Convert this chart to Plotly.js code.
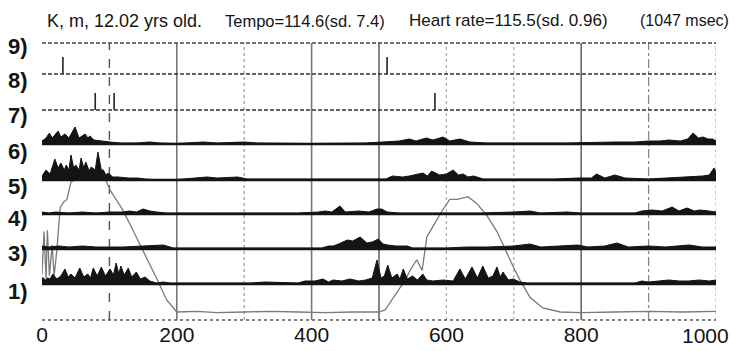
<!DOCTYPE html>
<html><head><meta charset="utf-8">
<script src="https://cdn.plot.ly/plotly-3.0.1.min.js"></script>
<style>html,body{margin:0;padding:0;background:#fff}#c{width:734px;height:351px}</style>
</head><body><div id="c"></div><script>
// ---- data ----
const xTicks = [0, 200, 400, 600, 800, 1000];
const rowLabels = ['9)', '8)', '7)', '6)', '5)', '4)', '3)', '1)'];

// 1) tempo curve (gray)
const tempoX = [0,3,6,8,11,15,18,22,27,32,37,43,55,70,85,95,101,110,120,135,150,160,171,185,200,230,260,300,340,380,420,460,500,509,524,539,546,556,564,571,579,593,605,616,632,645,660,675,699,709,724,743,769,800,850,900,950,1000];
const tempoY = [28,60,25,61,27,50,27,46,78,82,84,97,100,101,100,98,91,84,76,61,46,35,24,9,0,0.5,-0.5,0,0.5,0,-0.5,0,0,1.5,13,24,31,39,31,56,63,75,84,84,86,81,72,60,34,24,11,3,0,-0.5,0,0.5,0,0.5];

// 9) and 8) event ticks
const row9Events = [31, 512];
const row8Events = [79, 107, 583];

// 7) .. 3) activity profiles
const r7X = [0,6,11,15,19,24,28,34,40,49,55,64,68,71,77,86,101,116,140,160,175,200,240,260,300,320,400,480,530,545,555,570,580,595,605,620,635,660,700,780,850,880,900,917,930,947,958,966,974,981,988,995,1000];
const r7Y = [3,6,11,6,9,13,7,10,6,17,6,10,6,8,4,3,2,1,1,2,1,0.5,2,1,2,1,0.5,1,3,5,3,6,4,7,3,5,2,1,1,1,2,2,3,3,4,3,5,11,6,7,5,5,3];

const r6X = [0,6,12,19,24,28,33,36,40,43,47,50,55,58,62,65,70,73,79,83,88,91,95,98,105,113,128,142,153,165,200,230,245,260,290,305,330,400,460,510,520,535,545,565,572,578,590,600,610,618,625,632,640,655,700,760,795,815,823,835,850,865,900,930,950,965,980,990,997,1000];
const r6Y = [4,10,6,21,12,17,10,15,10,25,12,15,10,22,12,18,9,13,10,28,10,10,5,7,3,3,2,2,1,0.5,0.5,2,3,2,3,1,1,1,1,1,4,3,4,7,4,9,5,6,10,5,6,3,4,1,1,1,2,2,6,2,5,2,1,2,3,3,4,5,12,8];

const r5X = [0,10,20,40,60,80,100,120,130,140,150,160,170,185,250,300,380,410,420,430,442,450,470,485,497,504,512,530,600,650,700,724,740,779,800,880,890,905,920,935,945,957,968,976,990,1000];
const r5Y = [2,1,2,1,2,1,2,2,3,2,5,3,2,1,1,1,1,2,3,2,8,2,3,2,5,5,2,1,1,1,2,3,1,2,1,1,3,4,3,7,3,6,3,4,3,2];

const r4X = [0,10,25,40,60,80,100,120,150,170,180,195,250,320,360,405,415,425,432,440,453,461,466,472,482,490,499,506,513,525,542,550,570,600,630,660,700,724,740,770,795,810,835,853,870,900,925,960,980,1000];
const r4Y = [3,2,3,2,3,2,2,2,3,4,4,1,1,1,1,1,1,3,3,5,9,8,10,12,6,7,10,5,4,3,3,1,1,1,2,2,3,5,2,3,4,2,3,6,2,3,2,4,2,2];

const r3X = [0,2,5,8,12,16,22,28,34,39,43,49,56,62,68,72,76,82,88,94,101,106,110,114,117,122,128,133,140,146,153,160,170,180,190,240,280,310,330,380,390,405,417,425,432,445,457,470,480,490,497,503,508,513,519,527,531,536,542,550,557,565,571,580,595,610,620,628,638,646,654,662,669,675,680,684,692,699,709,720,780,850,880,890,900,915,930,945,960,975,990,1000];
const r3Y = [6,6,4,6,5,10,5,8,15,7,10,6,16,7,10,6,16,8,17,8,15,9,21,10,18,9,16,7,12,5,7,3,1,2,1,1,1,1,2,1,3,3,5,2,4,3,5,3,4,6,24,6,8,19,6,10,5,15,5,8,4,10,4,3,4,3,15,5,17,6,18,6,8,17,7,12,4,5,2,1,1,1,1,3,2,3,4,3,3,4,3,4];

// ---- layout geometry (pixels of the 734x351 page) ----
const W = 734, H = 351, ML = 42, MR = 18, MT = 43, MB = 31;
const PH = H - MT - MB;
const PW = W - ML - MR;
const basePx = [74, 110, 144, 180, 214, 249, 284]; // baselines of rows 9..3
const labelPx = [47, 81, 116, 151, 186, 219, 254, 291];
const toPaperY = py => (H - MB - py) / PH;
const toPaperX = px => (px - ML) / PW;
const RLO = -3, RHI = 30;          // each row axis: 1 unit = 1 px

const ink = '#141414';
const tickFont = {family: '"Liberation Sans", Arial, sans-serif', size: 21, color: ink};
const lastTick = xTicks[xTicks.length - 1];
const traces = [];
const layout = {
  width: W, height: H,
  margin: {l: ML, r: MR, t: MT, b: MB, pad: 0},
  paper_bgcolor: '#ffffff', plot_bgcolor: 'rgba(0,0,0,0)',
  showlegend: false,
  xaxis: {range: [0, 1000], tickvals: xTicks,
          ticktext: xTicks.map(v => v === lastTick ? '' : String(v)),
          showgrid: false, zeroline: false, showline: false, ticks: '',
          tickfont: tickFont},
  yaxis: {domain: [0, 1], range: [-5.97, 200.7], visible: false, fixedrange: true},
  shapes: [], annotations: []
};

traces.push({x: tempoX, y: tempoY, xaxis: 'x', yaxis: 'y', type: 'scatter', mode: 'lines',
  line: {color: '#7a7a7a', width: 1.3}, hoverinfo: 'skip'});

const rowData = [null, null, {x: r7X, y: r7Y}, {x: r6X, y: r6Y}, {x: r5X, y: r5Y}, {x: r4X, y: r4Y}, {x: r3X, y: r3Y}];
const events = [row9Events, row8Events];

basePx.forEach((b, i) => {
  const n = i + 2;
  const ax = 'yaxis' + n, yr = 'y' + n;
  const lo = toPaperY(b - RLO), hi = toPaperY(b - RHI);
  layout[ax] = {domain: [lo, hi], range: [RLO, RHI], visible: false, fixedrange: true};
  if (i < 2) {
    const ex = [], ey = [];
    events[i].forEach(e => { ex.push(e, e, null); ey.push(0, 17, null); });
    traces.push({x: ex, y: ey, xaxis: 'x', yaxis: yr, type: 'scatter', mode: 'lines',
      line: {color: '#222', width: 1.6}, hoverinfo: 'skip'});
    layout.shapes.push({type: 'line', xref: 'paper', x0: 0, x1: 1, yref: yr, y0: 0, y1: 0,
      line: {color: '#333', width: 1.5, dash: '4px,2px'}});
  } else {
    const d = rowData[i];
    traces.push({x: d.x, y: d.y, xaxis: 'x', yaxis: yr, type: 'scatter', mode: 'lines',
      fill: 'tozeroy', fillcolor: ink, line: {color: ink, width: 1}, hoverinfo: 'skip'});
    layout.shapes.push({type: 'line', xref: 'paper', x0: 0, x1: 1, yref: yr, y0: 0, y1: 0,
      line: {color: ink, width: 2.4}});
  }
});

const vStyle = {
  100: ['#555', 1.4, 'dash'], 200: ['#777', 1.6, 'solid'], 300: ['#999', 1.2, 'dot'],
  400: ['#777', 1.6, 'solid'], 500: ['#666', 1.6, 'solid'], 600: ['#aaa', 1.2, 'dot'],
  700: ['#aaa', 1.2, 'dot'], 800: ['#666', 1.6, 'solid'], 900: ['#888', 1.3, 'dashdot'],
  1000: ['#aaa', 1.2, 'dot']
};
Object.keys(vStyle).forEach(k => {
  const s = vStyle[k];
  layout.shapes.push({type: 'line', layer: 'below', xref: 'x', x0: +k, x1: +k, yref: 'paper', y0: 0, y1: 1,
    line: {color: s[0], width: s[1], dash: s[2]}});
});
layout.shapes.push({type: 'line', xref: 'paper', x0: 0, x1: 1, yref: 'paper', y0: 1, y1: 1,
  line: {color: '#444', width: 1.4, dash: '4px,2px'}});
layout.shapes.push({type: 'line', xref: 'paper', x0: 0, x1: 1, yref: 'paper', y0: 0, y1: 0,
  line: {color: '#555', width: 1.3, dash: 'dot'}});

// last x tick label kept inside the page, right-aligned as in the reference
layout.annotations.push({text: String(lastTick), xref: 'paper', x: toPaperX(731), xanchor: 'right',
  yref: 'paper', y: toPaperY(335), yanchor: 'middle', showarrow: false, font: tickFont});

rowLabels.forEach((t, i) => {
  layout.annotations.push({text: '<b>' + t + '</b>', xref: 'paper', x: toPaperX(18), xanchor: 'center',
    yref: 'paper', y: toPaperY(labelPx[i]), yanchor: 'middle', showarrow: false,
    font: {family: 'Arial, "Liberation Sans", sans-serif', size: 22, color: ink}});
});

// header texts
const heads = [
  ['K, m, 12.02 yrs old.', 45, 'left', 18],
  ['Tempo=114.6(sd. 7.4)', 223, 'left', 16.5],
  ['Heart rate=115.5(sd. 0.96)', 407, 'left', 17],
  ['(1047 msec)', 731, 'right', 16]
];
heads.forEach(h => {
  layout.annotations.push({text: h[0], xref: 'paper', x: toPaperX(h[1]), xanchor: h[2],
    yref: 'paper', y: toPaperY(21), yanchor: 'middle', showarrow: false,
    font: {family: '"Liberation Sans", Arial, sans-serif', size: h[3], color: ink}});
});

Plotly.newPlot('c', traces, layout, {staticPlot: true, displayModeBar: false});
</script></body></html>
